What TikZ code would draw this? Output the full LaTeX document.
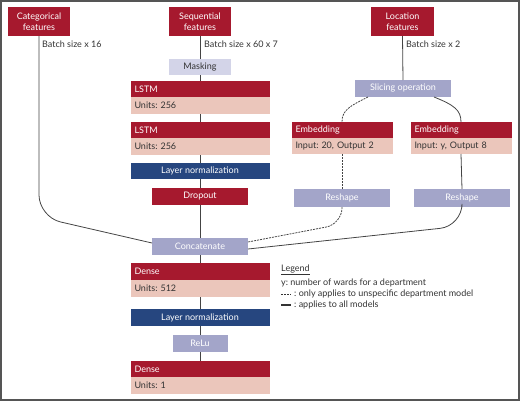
\documentclass[tikz,border=0pt]{standalone}
\usepackage{fontspec}
\setmainfont{Lato}
\usetikzlibrary{calc}
\frenchspacing
\definecolor{redc}{HTML}{A6192E}
\definecolor{pinkc}{HTML}{EBC6BB}
\definecolor{lavc}{HTML}{A3A5C9}
\definecolor{lavl}{HTML}{D3D4E8}
\definecolor{bluec}{HTML}{26467F}
\definecolor{txtc}{HTML}{333333}
\definecolor{linec}{HTML}{444444}
\definecolor{framec}{HTML}{555555}
\begin{document}
\begin{tikzpicture}[x=1pt,y=-1pt,font=\fontsize{9}{10.5}\selectfont,
  box/.style={anchor=north west, inner sep=0, outer sep=0, align=center},
  redbox/.style={box, fill=redc, text=white},
  lavbox/.style={box, fill=lavc, text=white},
  lightbox/.style={box, fill=lavl, text=txtc},
  bluebox/.style={box, fill=bluec, text=white},
  hdr/.style={anchor=north west, fill=redc, text=white, inner xsep=4, inner ysep=0, outer sep=0, minimum height=16, text width=#1, align=left},
  bodyb/.style={anchor=north west, fill=pinkc, text=txtc, inner xsep=4, inner ysep=0, outer sep=0, minimum height=17, text width=#1, align=left},
  conn/.style={draw=linec, line width=0.8},
  lbl/.style={anchor=west, inner sep=0, text=txtc},
  legf/.style={lbl, font=\fontsize{9}{10.5}\selectfont}
]
\useasboundingbox (0,0) rectangle (520,402);
\draw[framec, line width=1.6] (0.8,0.8) rectangle (519.2,400.2);

% inputs
\node[redbox, minimum width=62, minimum height=29] (cat) at (8,7) {Categorical\\features};
\node[redbox, minimum width=62, minimum height=29] (seq) at (169,7) {Sequential\\features};
\node[redbox, minimum width=63, minimum height=29] (loc) at (371,7) {Location\\features};

\node[lbl] (lb1) at (42,44) {Batch size x 16};
\node[lbl] (lb2) at (204,44) {Batch size x 60 x 7};
\node[lbl] (lb3) at (406,44) {Batch size x 2};

% sequential column
\node[lightbox, minimum width=62, minimum height=16] (mask) at (169,59) {Masking};
\node[hdr=131] (l1h) at (130.5,81) {LSTM};
\node[bodyb=131] (l1b) at (130.5,97) {Units: 256};
\node[hdr=131] (l2h) at (130.5,122) {LSTM};
\node[bodyb=131] (l2b) at (130.5,138) {Units: 256};
\node[bluebox, minimum width=139, minimum height=16] (ln1) at (130.5,163) {Layer normalization};
\node[redbox, minimum width=96, minimum height=17] (drop) at (152,188) {Dropout};
\node[lavbox, minimum width=96, minimum height=17] (conc) at (152,238) {Concatenate};
\node[hdr=131, minimum height=17] (d1h) at (130.5,263) {Dense};
\node[bodyb=131] (d1b) at (130.5,280) {Units: 512};
\node[bluebox, minimum width=139, minimum height=17] (ln2) at (130.5,309) {Layer normalization};
\node[lavbox, minimum width=55, minimum height=17] (relu) at (172.5,335) {ReLu};
\node[hdr=131] (d2h) at (130.5,361) {Dense};
\node[bodyb=131] (d2b) at (130.5,377) {Units: 1};

% location branch
\node[lavbox, minimum width=96, minimum height=17] (slice) at (355,80) {Slicing operation};
\node[hdr=93] (e1h) at (291.5,122) {Embedding};
\node[bodyb=93, minimum height=16] (e1b) at (291.5,138) {Input: 20, Output 2};
\node[hdr=93] (e2h) at (410.5,122) {Embedding};
\node[bodyb=93, minimum height=16] (e2b) at (410.5,138) {Input: y, Output 8};
\node[lavbox, minimum width=96, minimum height=18] (r1) at (294,189) {Reshape};
\node[lavbox, minimum width=96, minimum height=18] (r2) at (414,189) {Reshape};

% connectors
\draw[conn] (seq.south) -- (mask.north);
\draw[conn] (mask.south) -- (l1h.north);
\draw[conn] (l1b.south) -- (l2h.north);
\draw[conn] (l2b.south) -- (ln1.north);
\draw[conn] (ln1.south) -- (drop.north);
\draw[conn] (drop.south) -- (conc.north);
\draw[conn] (conc.south) -- (d1h.north);
\draw[conn] (d1b.south) -- (ln2.north);
\draw[conn] (ln2.south) -- (relu.north);
\draw[conn] (relu.south) -- (d2h.north);
\draw[conn] (loc.south) -- (slice.north);

\draw[conn, rounded corners=22] (cat.south) -- (39,217) -- ($(conc.west)+(0,-3.5)$);
\draw[conn, dashed, dash pattern=on 2pt off 1pt] ($(slice.south)+(-35,0)$) .. controls +(-18,9) and +(0,-12) .. (e1h.north);
\draw[conn] ($(slice.south)+(31,0)$) .. controls +(20,8) and +(0,-12) .. (e2h.north);
\draw[conn, dashed, dash pattern=on 2pt off 1pt] (e1b.south) -- (r1.north);
\draw[conn] (e2b.south) -- (r2.north);
\draw[conn, dashed, dash pattern=on 2pt off 1pt, rounded corners=16] (r1.south) -- (342,224) -- ($(conc.east)+(0,-4.5)$);
\draw[conn, rounded corners=22] (r2.south) -- (462,226) -- ($(conc.east)+(0,2.5)$);

% legend
\node[legf, anchor=base west] (legt) at (281,271) {\underline{Legend}};
\node[legf] (leg1) at (281,283) {y: number of wards for a department};
\node[legf] (leg2) at (294,294) {: only applies to unspecific department model};
\node[legf] (leg3) at (294,305) {: applies to all models};
\draw[txtc, line width=0.8, dash pattern=on 2pt off 1pt] (281,294) -- (291,294);
\draw[txtc, line width=1.3] (281,305) -- (291,305);
\end{tikzpicture}
\end{document}
